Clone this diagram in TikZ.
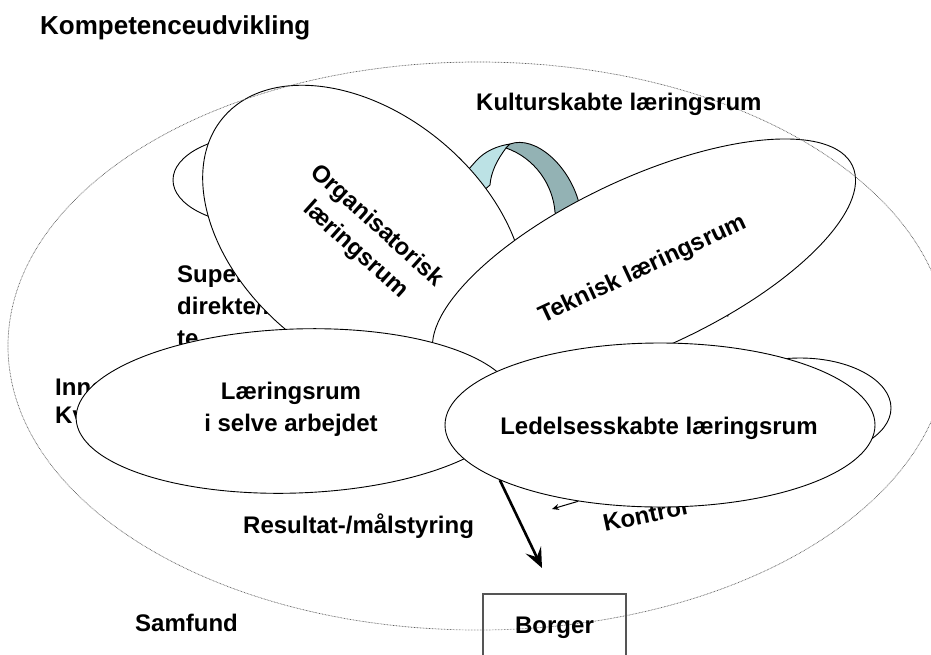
\documentclass[tikz,border=0pt]{standalone}
\usepackage{fontspec}
\setmainfont{Liberation Sans}
\usetikzlibrary{shapes.geometric,arrows.meta}
\definecolor{ribbonlight}{HTML}{BCE2E5}
\definecolor{ribbondark}{HTML}{93B2B4}
\definecolor{boxgray}{HTML}{555555}
\begin{document}
\begin{tikzpicture}[x=1pt,y=-1pt,
  lbl/.style={font=\fontsize{24}{32}\selectfont\bfseries, inner sep=0pt},
  blob/.style={ellipse, draw=black, fill=white, line width=0.9pt, inner sep=0pt},
  ribbonedge/.style={draw=black, line width=0.9pt, line join=round},
  dotline/.style={draw=gray!70!black, line width=0.7pt, dash pattern=on 0.7pt off 0.8pt},
]
\useasboundingbox (0,0) rectangle (931,654);

% texts partly hidden behind the ellipses
\node[lbl, anchor=base west, align=left] (sup) at (177,346) {Supervision,\\direkte/indirek\\te};
\node[lbl, anchor=base west, align=left, font=\fontsize{24}{28}\selectfont\bfseries] (inn) at (55,423) {Innovation\\Kvalitet};
\node[lbl, anchor=base west, rotate=12] (kon) at (605,532) {Kontrol};

% small background ellipses
\node[blob, minimum width=174pt, minimum height=90pt] (sl) at (260,180) {};
\node[blob, minimum width=182pt, minimum height=100pt] (sr) at (800,408) {};

% ribbon
\path[ribbonedge, fill=ribbonlight] (468,170) -- (476,161) .. controls (485,151) and (497,146) .. (510,144)
  -- (506,148) .. controls (497,160) and (491,172) .. (490,185) -- (482,192) -- cycle;
\path[ribbonedge, fill=ribbondark] (510,144) .. controls (535,135) and (569,165) .. (579,203)
  -- (583,216) -- (558,222) -- (555,212) .. controls (553,185) and (535,158) .. (506,148) -- cycle;

% hidden arrow whose tip pokes out
\coordinate (ha) at (724,300);
\coordinate (hb) at (728,317);
\draw[line width=0.6pt, -{Stealth[length=4pt,width=4pt]}] (ha) -- (hb);

% main ellipses
\node[blob, rotate=-40, minimum width=368pt, minimum height=244pt] (org) at (364,236) {};
\node[blob, rotate=25, minimum width=460pt, minimum height=170pt] (tek) at (644,263) {};
\node[blob, rotate=2, minimum width=440pt, minimum height=164pt] (lrs) at (296,411) {};
\node[blob, minimum width=430pt, minimum height=164pt] (led) at (660,425) {};

% ellipse texts
\node[lbl, rotate=-42, align=center] (orgt) at (366,238) {Organisatorisk\\læringsrum};
\node[lbl, rotate=25] (tekt) at (643,270) {Teknisk læringsrum};
\node[lbl, align=center] (lrst) at (291,409) {Læringsrum\\i selve arbejdet};
\node[lbl] (ledt) at (659,428) {Ledelsesskabte læringsrum};

% arrows
\coordinate (tipA) at (542,568);
\coordinate (tipB) at (552,509);
\draw[line width=2.6pt, -{Stealth[length=20pt,width=17pt,inset=8pt]}] (led.199) -- (tipA);
\draw[line width=1pt, -{Stealth[length=7pt,width=6pt]}] (led.223) -- (tipB);

% society ellipse (dotted)
\node[ellipse, dotline, minimum width=940pt, minimum height=568pt, inner sep=0pt] (sam) at (478,346) {};

% free texts
\node[lbl, anchor=base west, font=\fontsize{26}{30}\selectfont\bfseries] (title) at (40,34) {Kompetenceudvikling};
\node[lbl, anchor=base west] (kul) at (476,110) {Kulturskabte læringsrum};
\node[lbl, anchor=base west] (res) at (243,533) {Resultat-/målstyring};
\node[lbl, anchor=base west] (samt) at (135,631) {Samfund};
\node[lbl, draw=boxgray, line width=1.2pt, minimum width=143pt, minimum height=68pt] (bor) at (554.5,628) {Borger};
\end{tikzpicture}
\end{document}
